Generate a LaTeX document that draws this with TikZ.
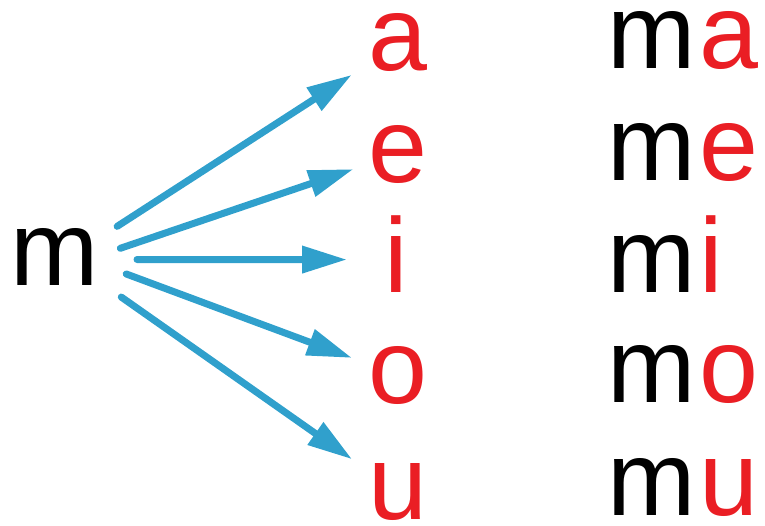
\documentclass[tikz,border=0pt]{standalone}
\usepackage{fontspec}
\setmainfont{Liberation Sans}
\usetikzlibrary{arrows.meta}

\definecolor{vowelred}{RGB}{234,30,36}
\definecolor{arrowblue}{RGB}{48,160,204}

\tikzset{
  letter/.style={inner sep=0pt, anchor=base, font=\fontsize{106}{106}\selectfont},
  syllable/.style={letter, anchor=base west},
  vowel/.style={letter, text=vowelred},
  fan/.style={draw=arrowblue, line width=7pt, line cap=round,
    -{Triangle[length=45pt,width=26pt]}, shorten <=76pt, shorten >=50pt},
}

\begin{document}
\begin{tikzpicture}[x=1pt,y=1pt,yscale=-1]
\useasboundingbox (0,0) rectangle (765,525);

% consonant
\node[letter] (m) at (55,285) {m};

% vowels
\node[vowel] (va) at (398,70) {a};
\node[vowel] (ve) at (398,182) {e};
\node[vowel] (vi) at (396,292) {i};
\node[vowel] (vo) at (398,403) {o};
\node[vowel] (vu) at (398,519) {u};

% syllables
\node[syllable] (sa) at (607,68) {m\kern4pt\textcolor{vowelred}{a}};
\node[syllable] (se) at (607,180) {m\kern4pt\textcolor{vowelred}{e}};
\node[syllable] (si) at (607,292) {m\kern4pt\textcolor{vowelred}{i}};
\node[syllable] (so) at (607,402) {m\kern4pt\textcolor{vowelred}{o}};
\node[syllable] (su) at (607,515) {m\kern4pt\textcolor{vowelred}{u}};

% fan of arrows
\draw[fan, shorten <=74pt, shorten >=55pt] ([yshift=10pt]m.center) -- ([yshift=3pt]va.center);
\draw[fan, shorten <=69pt, shorten >=47pt] ([yshift=14pt]m.center) -- (ve.center);
\draw[fan, shorten <=82pt, shorten >=49pt] ([yshift=3pt]m.center) -- ([yshift=6pt]vi.center);
\draw[fan, shorten <=76pt, shorten >=49pt] ([yshift=-9pt]m.center) -- (vo.center);
\draw[fan, shorten <=81pt, shorten >=56pt] ([yshift=-6pt]m.center) -- (vu.center);

\end{tikzpicture}
\end{document}
